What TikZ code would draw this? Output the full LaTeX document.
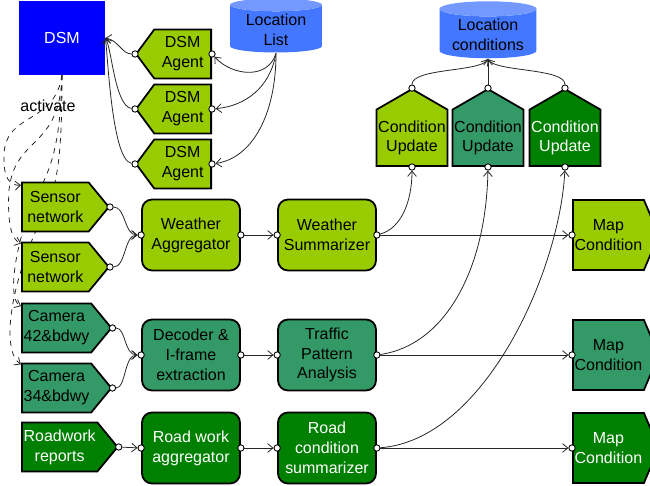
\documentclass[tikz,border=0pt]{standalone}
\usepackage{fontspec}
\setmainfont{Liberation Sans}
\usetikzlibrary{shapes.symbols,shapes.geometric,arrows.meta,backgrounds}
\definecolor{ygreen}{HTML}{99CC00}
\definecolor{sgreen}{HTML}{339966}
\definecolor{dgreen}{HTML}{008000}
\definecolor{dsmblue}{HTML}{0000FF}
\definecolor{dbblue}{HTML}{4477FF}
\tikzset{
  base/.style={draw=black,line width=1pt,inner sep=1pt,align=center,
    font=\fontsize{9.1}{11.3}\selectfont},
  agent/.style={base,signal,signal to=west,fill=ygreen,minimum width=1.5cm,
    minimum height=0.98cm,signal pointer angle=107,anchor=east},
  source/.style={base,signal,signal to=east,minimum width=1.74cm,
    minimum height=0.98cm,signal pointer angle=101,anchor=west},
  update/.style={base,signal,signal to=north,minimum width=1.4cm,
    minimum height=1.54cm,signal pointer angle=120,anchor=south},
  sink/.style={base,signal,signal to=east,minimum width=1.56cm,
    minimum height=1.4cm,signal pointer angle=134,anchor=west},
  proc/.style={base,rectangle,rounded corners=0.2cm,minimum width=1.96cm,
    minimum height=1.42cm},
  store/.style={base,draw=none,cylinder,shape border rotate=90,aspect=0.2,
    cylinder uses custom fill,cylinder body fill=dbblue,
    cylinder end fill=dbblue!75!white},
  port/.style={circle,draw=black,fill=white,line width=0.5pt,inner sep=0pt,
    minimum size=3.6pt},
  link/.style={line width=0.45pt,draw=black!85,
    -{Straight Barb[length=3pt,width=5pt]}},
  act/.style={link,dashed},
}
\begin{document}
\begin{tikzpicture}[x=0.02cm,y=-0.02cm]
    \useasboundingbox (0,0) rectangle (650,486);

    % DSM e agentes
    \node[base,draw=dsmblue,fill=dsmblue,text=white,minimum width=1.7cm,
      minimum height=1.44cm] (dsm) at (62,38) {DSM};
    \node[agent] (a1) at (212,54) {DSM\\Agent};
    \node[agent] (a2) at (212,109) {DSM\\Agent};
    \node[agent] (a3) at (212,164) {DSM\\Agent};

    % Bases de dados
    \node[store,minimum width=1.84cm,minimum height=1.08cm] (ll) at (276,30) {Location\\List};
    \node[store,minimum width=1.94cm,minimum height=1.14cm] (lc) at (488,35) {Location\\conditions};

    % Atualizacoes
    \node[update,fill=ygreen] (cu1) at (412,167) {Condition\\Update};
    \node[update,fill=sgreen] (cu2) at (488,167) {Condition\\Update};
    \node[update,fill=dgreen,text=white] (cu3) at (565,167) {Condition\\Update};

    % Fontes
    \node[source,fill=ygreen] (sn1) at (21,207) {Sensor\\network};
    \node[source,fill=ygreen] (sn2) at (21,267) {Sensor\\network};
    \node[source,fill=sgreen] (cam1) at (21,328) {Camera\\42\&bdwy};
    \node[source,fill=sgreen] (cam2) at (21,388) {Camera\\34\&bdwy};
    \node[source,fill=dgreen,text=white] (rw) at (21,447) {Roadwork\\reports};

    % Processamento
    \node[proc,fill=ygreen] (wagg) at (191,235) {Weather\\Aggregator};
    \node[proc,fill=ygreen] (wsum) at (327,235) {Weather\\Summarizer};
    \node[proc,fill=sgreen] (dec) at (191,355) {Decoder \&\\I-frame\\extraction};
    \node[proc,fill=sgreen] (tpa) at (327,355) {Traffic\\Pattern\\Analysis};
    \node[proc,fill=dgreen,text=white] (rwagg) at (191,448) {Road work\\aggregator};
    \node[proc,fill=dgreen,text=white] (rcs) at (327,448) {Road\\condition\\summarizer};

    % Mapas
    \node[sink,fill=ygreen] (map1) at (572,235) {Map\\Condition};
    \node[sink,fill=sgreen] (map2) at (572,355) {Map\\Condition};
    \node[sink,fill=dgreen,text=white] (map3) at (572,448) {Map\\Condition};

    % Portas
    \foreach \n in {a1,a2,a3} {
      \node[port] (\n w) at (\n.west) {};
      \node[port] (\n e) at (\n.east) {};
    }
    \foreach \n in {cu1,cu2,cu3} {
      \node[port] (\n n) at (\n.north) {};
      \node[port] (\n s) at (\n.south) {};
    }
    \foreach \n in {sn1,sn2,cam1,cam2,rw} {
      \node[port] (\n e) at (\n.east) {};
    }
    \foreach \n in {wagg,wsum,dec,tpa,rwagg,rcs} {
      \node[port] (\n w) at (\n.west) {};
      \node[port] (\n e) at (\n.east) {};
    }
    \foreach \n in {map1,map2,map3} {
      \node[port] (\n w) at (\n.west) {};
    }

    % Lista -> agentes -> DSM
    \draw[link] (ll.south) .. controls (268,80) and (232,76) .. (a1e);
    \draw[link] (ll.south) .. controls (270,88) and (245,106) .. (a2e);
    \draw[link] (ll.south) .. controls (276,115) and (252,158) .. (a3e);
    \draw[link] (a1w) .. controls (122,54) and (118,40) .. (dsm.east);
    \draw[link] (a2w) .. controls (115,106) and (112,50) .. (dsm.east);
    \draw[link] (a3w) .. controls (112,160) and (108,58) .. (dsm.east);

    % Ativacao
    \node (actlbl) at (48,106) {\fontsize{9.1}{11.3}\selectfont activate};
    \begin{pgfonlayer}{background}
    \draw[act] (dsm.south) .. controls (55,125) and (5,112) .. (4,155)
      .. controls (3,178) and (10,186) .. ([yshift=-2pt]sn1.north west);
    \draw[act] (dsm.south) .. controls (60,150) and (15,135) .. (9,190)
      .. controls (7,225) and (12,240) .. ([yshift=-1pt]sn2.north west);
    \draw[act] (dsm.south) .. controls (60,165) and (45,175) .. (28,215)
      .. controls (14,255) and (8,300) .. ([yshift=-2pt]cam1.north west);
    \draw[act] (dsm.south) .. controls (62,175) and (55,190) .. (40,222)
      .. controls (8,290) and (2,352) .. ([yshift=-1pt]cam2.north west);
    \end{pgfonlayer}

    % Fluxo de dados
    \draw[link] (sn1e) .. controls (126,207) and (124,235) .. (waggw);
    \draw[link] (sn2e) .. controls (126,267) and (124,235) .. (waggw);
    \draw[link] (cam1e) .. controls (126,328) and (124,355) .. (decw);
    \draw[link] (cam2e) .. controls (126,388) and (124,355) .. (decw);
    \draw[link] (rwe) -- (rwaggw);
    \draw[link] (wagge) -- (wsumw);
    \draw[link] (dece) -- (tpaw);
    \draw[link] (rwagge) -- (rcsw);
    \draw[link] (wsume) -- (map1w);
    \draw[link] (tpae) -- (map2w);
    \draw[link] (rcse) -- (map3w);

    % Sumarios -> atualizacoes -> condicoes
    \draw[link] (wsume) .. controls (402,228) and (412,200) .. (cu1s);
    \draw[link] (tpae) .. controls (445,345) and (486,270) .. (cu2s);
    \draw[link] (rcse) .. controls (485,440) and (560,270) .. (cu3s);
    \draw[link] (cu1n) .. controls (412,68) and (480,72) .. (lc.south);
    \draw[link] (cu2n) -- (lc.south);
    \draw[link] (cu3n) .. controls (565,68) and (496,72) .. (lc.south);

\end{tikzpicture}
\end{document}
